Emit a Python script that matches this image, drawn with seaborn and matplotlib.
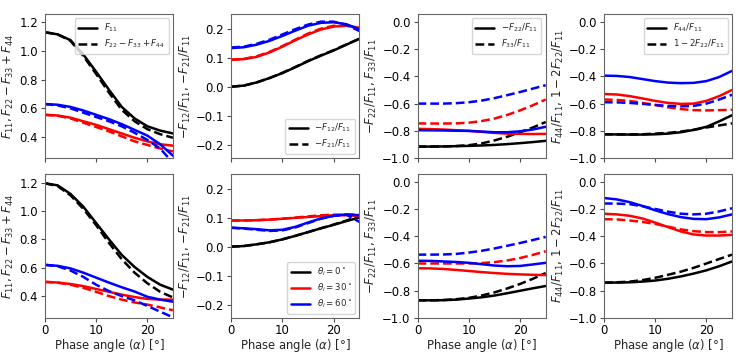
import matplotlib
matplotlib.use("Agg")
import matplotlib.pyplot as plt
from matplotlib.lines import Line2D
import seaborn as sns
import pandas as pd
import numpy as np

# phase angles (deg) and incidence angles
alpha = [0, 2.5, 5, 7.5, 10, 12.5, 15, 17.5, 20, 22.5, 25]
thetas = [0, 30, 60]
colors = ["black", "red", "blue"]

# ---------------- top row (rows: theta_i = 0, 30, 60) ----------------
top_f11 = [[1.13, 1.115, 1.075, 0.975, 0.855, 0.73, 0.61, 0.53, 0.475, 0.445, 0.425],
           [0.555, 0.55, 0.535, 0.51, 0.485, 0.455, 0.425, 0.395, 0.37, 0.35, 0.34],
           [0.63, 0.625, 0.61, 0.585, 0.555, 0.525, 0.49, 0.45, 0.41, 0.35, 0.27]]
top_fsum = [[1.13, 1.115, 1.07, 0.965, 0.84, 0.71, 0.59, 0.51, 0.455, 0.42, 0.395],
            [0.555, 0.548, 0.53, 0.5, 0.47, 0.44, 0.405, 0.37, 0.345, 0.32, 0.3],
            [0.63, 0.62, 0.6, 0.57, 0.54, 0.51, 0.475, 0.43, 0.38, 0.32, 0.22]]
top_f12 = [[0.0, 0.004, 0.015, 0.03, 0.047, 0.067, 0.088, 0.107, 0.125, 0.145, 0.165],
           [0.093, 0.095, 0.103, 0.118, 0.138, 0.16, 0.18, 0.197, 0.207, 0.21, 0.203],
           [0.133, 0.136, 0.145, 0.158, 0.175, 0.193, 0.21, 0.22, 0.222, 0.215, 0.198]]
top_f21 = [[0.0, 0.004, 0.015, 0.03, 0.048, 0.068, 0.089, 0.108, 0.126, 0.146, 0.165],
           [0.093, 0.096, 0.105, 0.12, 0.14, 0.162, 0.183, 0.2, 0.21, 0.21, 0.2],
           [0.135, 0.138, 0.148, 0.162, 0.18, 0.198, 0.214, 0.224, 0.224, 0.213, 0.192]]
top_f22 = [[-0.915, -0.915, -0.914, -0.912, -0.91, -0.907, -0.903, -0.897, -0.89, -0.882, -0.873],
           [-0.785, -0.787, -0.79, -0.795, -0.8, -0.807, -0.815, -0.82, -0.822, -0.823, -0.822],
           [-0.795, -0.796, -0.797, -0.799, -0.8, -0.805, -0.81, -0.81, -0.803, -0.79, -0.77]]
top_f33 = [[-0.915, -0.915, -0.914, -0.911, -0.905, -0.892, -0.87, -0.843, -0.81, -0.775, -0.735],
           [-0.745, -0.746, -0.746, -0.745, -0.74, -0.728, -0.71, -0.683, -0.65, -0.612, -0.57],
           [-0.6, -0.6, -0.6, -0.597, -0.59, -0.578, -0.56, -0.538, -0.515, -0.49, -0.465]]
top_f44 = [[-0.825, -0.826, -0.827, -0.827, -0.825, -0.82, -0.81, -0.793, -0.77, -0.73, -0.685],
           [-0.53, -0.533, -0.545, -0.562, -0.58, -0.595, -0.602, -0.6, -0.58, -0.545, -0.5],
           [-0.395, -0.397, -0.405, -0.42, -0.435, -0.446, -0.45, -0.448, -0.435, -0.405, -0.36]]
top_f22b = [[-0.825, -0.826, -0.826, -0.825, -0.82, -0.815, -0.805, -0.792, -0.775, -0.76, -0.745],
            [-0.57, -0.573, -0.58, -0.595, -0.61, -0.627, -0.64, -0.648, -0.65, -0.648, -0.645],
            [-0.59, -0.591, -0.595, -0.602, -0.61, -0.617, -0.62, -0.617, -0.6, -0.57, -0.535]]

# ---------------- bottom row ----------------
bot_f11 = [[1.195, 1.18, 1.12, 1.03, 0.915, 0.8, 0.69, 0.605, 0.535, 0.48, 0.445],
           [0.5, 0.495, 0.485, 0.47, 0.45, 0.43, 0.41, 0.393, 0.38, 0.375, 0.375],
           [0.62, 0.613, 0.595, 0.565, 0.53, 0.495, 0.462, 0.432, 0.395, 0.375, 0.36]]
bot_fsum = [[1.195, 1.175, 1.11, 1.015, 0.9, 0.775, 0.66, 0.565, 0.49, 0.43, 0.39],
            [0.5, 0.495, 0.48, 0.458, 0.43, 0.4, 0.375, 0.355, 0.34, 0.32, 0.3],
            [0.62, 0.61, 0.58, 0.535, 0.48, 0.435, 0.4, 0.37, 0.33, 0.29, 0.25]]
bot_f12 = [[0.0, 0.002, 0.008, 0.015, 0.025, 0.037, 0.05, 0.063, 0.075, 0.088, 0.1],
           [0.09, 0.09, 0.091, 0.093, 0.096, 0.099, 0.102, 0.105, 0.108, 0.108, 0.105],
           [0.065, 0.063, 0.06, 0.056, 0.058, 0.068, 0.083, 0.097, 0.106, 0.111, 0.108]]
bot_f21 = [[0.0, 0.002, 0.008, 0.015, 0.025, 0.037, 0.05, 0.063, 0.076, 0.09, 0.105],
           [0.09, 0.09, 0.091, 0.093, 0.096, 0.1, 0.104, 0.108, 0.11, 0.11, 0.11],
           [0.065, 0.062, 0.058, 0.054, 0.056, 0.066, 0.081, 0.096, 0.106, 0.11, 0.085]]
bot_f22 = [[-0.87, -0.87, -0.869, -0.865, -0.857, -0.848, -0.835, -0.818, -0.8, -0.782, -0.765],
           [-0.635, -0.636, -0.64, -0.647, -0.655, -0.663, -0.67, -0.676, -0.68, -0.683, -0.685],
           [-0.58, -0.581, -0.585, -0.589, -0.595, -0.605, -0.615, -0.62, -0.618, -0.607, -0.595]]
bot_f33 = [[-0.87, -0.87, -0.868, -0.862, -0.852, -0.835, -0.812, -0.783, -0.75, -0.712, -0.67],
           [-0.6, -0.6, -0.6, -0.6, -0.6, -0.597, -0.59, -0.578, -0.56, -0.537, -0.51],
           [-0.535, -0.535, -0.534, -0.53, -0.52, -0.507, -0.49, -0.47, -0.45, -0.428, -0.405]]
bot_f44 = [[-0.74, -0.74, -0.738, -0.733, -0.725, -0.712, -0.695, -0.674, -0.65, -0.62, -0.585],
           [-0.235, -0.24, -0.25, -0.27, -0.3, -0.333, -0.365, -0.387, -0.395, -0.395, -0.39],
           [-0.12, -0.13, -0.15, -0.178, -0.21, -0.238, -0.26, -0.273, -0.275, -0.262, -0.24]]
bot_f22b = [[-0.74, -0.738, -0.733, -0.722, -0.705, -0.683, -0.66, -0.632, -0.6, -0.567, -0.535],
            [-0.275, -0.277, -0.285, -0.295, -0.31, -0.33, -0.35, -0.363, -0.37, -0.37, -0.365],
            [-0.16, -0.161, -0.165, -0.18, -0.2, -0.22, -0.235, -0.24, -0.235, -0.218, -0.195]]

ylabels = [r"$F_{11}, F_{22}-F_{33}+F_{44}$",
           r"$-F_{12}/F_{11}$, $-F_{21}/F_{11}$",
           r"$-F_{22}/F_{11}$, $F_{33}/F_{11}$",
           r"$F_{44}/F_{11}$, $1-2F_{22}/F_{11}$"]
leg_labels = [(r"$F_{11}$", r"$F_{22}-F_{33}+F_{44}$"),
              (r"$-F_{12}/F_{11}$", r"$-F_{21}/F_{11}$"),
              (r"$-F_{22}/F_{11}$", r"$F_{33}/F_{11}$"),
              (r"$F_{44}/F_{11}$", r"$1-2F_{22}/F_{11}$")]

sns.set_style("ticks", {"axes.edgecolor": "0.4", "xtick.color": "0.3",
                        "ytick.color": "0.3"})
plt.rcParams["font.family"] = ["DejaVu Sans"]
plt.rcParams["font.size"] = 8.4
plt.rcParams["mathtext.fontset"] = "dejavusans"

FS = 8.4
LW = 1.8


def to_frame(solid, dashed):
    rows = []
    for kind, arr in (("solid", solid), ("dashed", dashed)):
        for t, vals in zip(thetas, arr):
            for a, v in zip(alpha, vals):
                rows.append({"alpha": a, "val": v, "theta": t, "kind": kind})
    return pd.DataFrame(rows)


fig, axes = plt.subplots(2, 4, figsize=(7.47, 3.53), dpi=100, sharex=True)
fig.subplots_adjust(left=0.060, right=0.980, top=0.960, bottom=0.099,
                    wspace=0.454, hspace=0.11)

panels = [[(top_f11, top_fsum), (top_f12, top_f21), (top_f22, top_f33), (top_f44, top_f22b)],
          [(bot_f11, bot_fsum), (bot_f12, bot_f21), (bot_f22, bot_f33), (bot_f44, bot_f22b)]]
ylims = [[(0.253, 1.256), (-0.246, 0.25), (-1.0, 0.056), (-1.0, 0.056)],
         [(0.245, 1.26), (-0.246, 0.25), (-1.0, 0.056), (-1.0, 0.056)]]
yticks = [np.arange(0.4, 1.21, 0.2), np.arange(-0.2, 0.21, 0.1),
          np.arange(-1.0, 0.01, 0.2), np.arange(-1.0, 0.01, 0.2)]

for r in range(2):
    for c in range(4):
        ax = axes[r, c]
        df = to_frame(*panels[r][c])
        sns.lineplot(data=df, x="alpha", y="val", hue="theta", style="kind",
                     palette=dict(zip(thetas, colors)),
                     dashes={"solid": "", "dashed": (3.5, 1.6)},
                     style_order=["solid", "dashed"],
                     linewidth=LW, legend=False, ax=ax)
        ax.set_xlim(0, 25)
        ax.set_ylim(*ylims[r][c])
        ax.set_xticks([0, 10, 20])
        ax.set_yticks(yticks[c])
        ax.set_ylabel(ylabels[c], fontsize=FS, labelpad=2)
        ax.tick_params(labelsize=FS, labelcolor="black", length=3, pad=2)
        ax.tick_params(axis="x", pad=1.5)
        if r == 1:
            ax.set_xlabel(r"Phase angle ($\alpha$) [°]", fontsize=FS, labelpad=0)
        else:
            ax.set_xlabel("")

# line style legends (top row)
for c in range(4):
    handles = [Line2D([], [], color="black", lw=LW),
               Line2D([], [], color="black", lw=LW, dashes=(3.5, 1.6))]
    loc = "lower right" if c == 1 else "upper right"
    axes[0, c].legend(handles, leg_labels[c], loc=loc, fontsize=6.2,
                      frameon=True, handlelength=2.2, borderpad=0.4,
                      labelspacing=0.4)

# colour legend (bottom row, second panel)
handles = [Line2D([], [], color=col, lw=LW) for col in colors]
axes[1, 1].legend(handles, [r"$\theta_i=0^\circ$", r"$\theta_i=30^\circ$", r"$\theta_i=60^\circ$"],
                  loc="lower right", fontsize=6.2, frameon=True, handlelength=2.2,
                  borderpad=0.4, labelspacing=0.4)

fig.savefig("out.png", dpi=100)
